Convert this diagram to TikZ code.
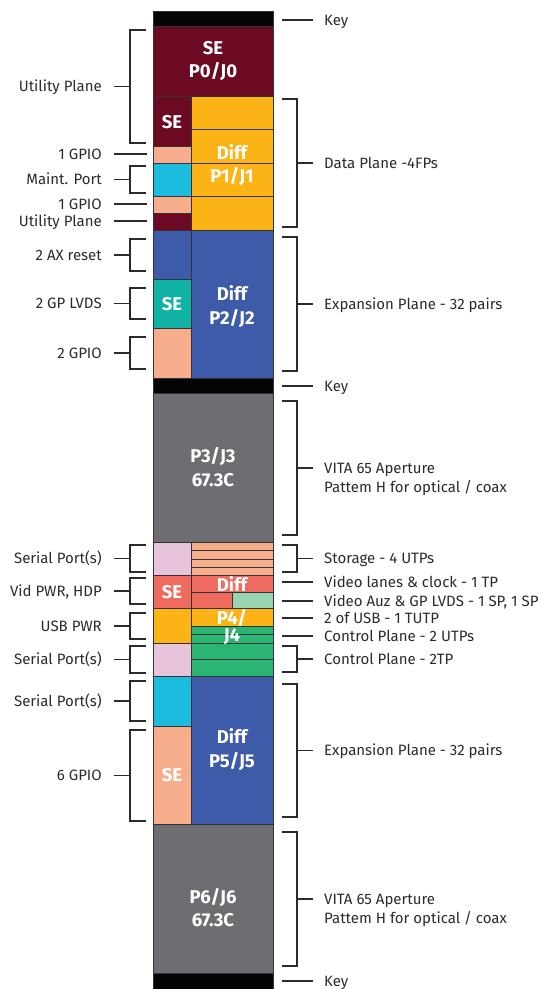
\documentclass[tikz,border=0pt]{standalone}
\usepackage{fontspec}
\setmainfont{Fira Sans}
\usepackage{xcolor}
\usetikzlibrary{calc, positioning}

\definecolor{ink}{HTML}{2B2B2B}
\definecolor{edge}{HTML}{333333}
\definecolor{keyblk}{HTML}{050505}
\definecolor{maroon}{HTML}{6B0A22}
\definecolor{gold}{HTML}{FBB316}
\definecolor{salmon}{HTML}{F6AD8C}
\definecolor{sky}{HTML}{1BBCDD}
\definecolor{royal}{HTML}{3D5BA9}
\definecolor{teal}{HTML}{10B2A5}
\definecolor{slate}{HTML}{6D6E71}
\definecolor{pink}{HTML}{E8C3DC}
\definecolor{coral}{HTML}{EF6B5F}
\definecolor{mint}{HTML}{98D4B0}
\definecolor{leaf}{HTML}{2BB573}

\begin{document}
\begin{tikzpicture}[x=1pt, y=-1pt,
	blk/.style={draw=edge, line width=0.8pt},
	br/.style={draw=ink, line width=1.2pt},
	lbl/.style={text=ink, font=\fontsize{15}{18}\selectfont, inner sep=0pt, text height=10.6pt, text depth=0pt},
	ll/.style={lbl, anchor=east},
	rl/.style={lbl, anchor=west},
	num/.style={text=white, font=\fontsize{18.5}{23.5}\selectfont\bfseries, align=center, inner sep=0pt}]
	\useasboundingbox (0,0) rectangle (553,989);

	\foreach \xa/\ya/\xb/\yb/\c in {
		153/11/273/26/keyblk, 153/26/273/96/maroon,
		153/96/191/146/maroon, 153/146/191/163/salmon, 153/163/191/196/sky,
		153/196/191/213/salmon, 153/213/191/230/maroon,
		191/96/273/129/gold, 191/129/273/163/gold, 191/163/273/196/gold, 191/196/273/230/gold,
		153/230/191/279/royal, 153/279/191/328/teal, 153/328/191/378/salmon,
		191/230/273/378/royal, 153/378/273/393/keyblk, 153/393/273/542/slate,
		153/542/191/575/pink,
		191/542/273/550/salmon, 191/550/273/559/salmon, 191/559/273/567/salmon, 191/567/273/575/salmon,
		153/575/191/608/coral, 191/575/273/592/coral, 191/592/232/608/coral, 232/592/273/608/mint,
		153/608/191/643/gold, 191/608/273/626/gold,
		191/626/273/634/leaf, 191/634/273/643/leaf,
		153/643/191/676/pink, 191/643/273/659/leaf, 191/659/273/676/leaf,
		153/676/191/726/sky, 153/726/191/824/salmon, 191/676/273/824/royal,
		153/824/273/973/slate, 153/973/273/989/keyblk}
		\filldraw[blk, fill=\c] (\xa,\ya) rectangle (\xb,\yb);

	\node[num] (p0) at (213,61) {SE\\P0/J0};
	\node[num] (se1) at (172,122) {SE};
	\node[num] (p1) at (232,165) {Diff\\P1/J1};
	\node[num] (se2) at (172,304) {SE};
	\node[num] (p2) at (232,306.5) {Diff\\P2/J2};
	\node[num] (p3) at (213,467) {P3/J3\\67.3C};
	\node[num] (df4) at (232,584) {Diff};
	\node[num] (se4) at (172,592) {SE};
	\node[num] (p4) at (232,617.5) {P4/};
	\node[num] (j4) at (232,637) {J4};
	\node[num] (p5) at (232,749.5) {Diff\\P5/J5};
	\node[num] (se5) at (172,775) {SE};
	\node[num] (p6) at (213,907.5) {P6/J6\\67.3C};

	\foreach \n/\t/\ya/\yb in {
		up/Utility Plane/30/143, mp/Maint. Port/166/193, ax/2 AX reset/239/271,
		gl/2 GP LVDS/288/319, gp/2 GPIO/337/369, sa/Serial Port(s)/545/572,
		vp/{Vid PWR, HDP}/578/604, ub/USB PWR/613/639, sb/Serial Port(s)/646/673,
		sc/Serial Port(s)/681/721, gs/6 GPIO/730/821}{
		\node[ll] (\n) at (102,{(\ya+\yb)/2}) {\t};
		\draw[br] (146,\ya) -- (130,\ya) -- (130,\yb) -- (146,\yb);
		\draw[br] ($(\n.east)+(12,0)$) -- ++(16,0);
	}
	\foreach \n/\t/\y in {ga/1 GPIO/154, gb/1 GPIO/204, uq/Utility Plane/221}{
		\node[ll] (\n) at (102,\y) {\t};
		\draw[br] ($(\n.east)+(12,0)$) -- ++(33,0);
	}

	\foreach \n/\t/\ya/\yb in {
		dp/Data Plane -4FPs/99/227, ea/Expansion Plane - 32 pairs/237/371,
		va/VITA 65 Aperture/401/535, st/Storage - 4 UTPs/545/572,
		cp/Control Plane - 2TP/646/672, eb/Expansion Plane - 32 pairs/684/817,
		vb/VITA 65 Aperture/832/966}{
		\node[rl] (\n) at (324,{(\ya+\yb)/2}) {\t};
		\draw[br] (282,\ya) -- (297,\ya) -- (297,\yb) -- (282,\yb);
		\draw[br] ($(\n.west)+(-11,0)$) -- ++(-16,0);
	}
	\node[rl, below=8.4pt of va.south west, anchor=north west] (va2) {Pattem H for optical / coax};
	\node[rl, below=8.4pt of vb.south west, anchor=north west] (vb2) {Pattem H for optical / coax};
	\foreach \n/\t/\y in {ka/Key/20, kb/Key/386, kc/Key/981,
		vl/Video lanes \& clock - 1 TP/582, vz/{Video Auz \& GP LVDS - 1 SP, 1 SP}/601,
		us/2 of USB - 1 TUTP/618, cq/Control Plane - 2 UTPs/636}{
		\node[rl] (\n) at (324,\y) {\t};
		\draw[br] ($(\n.west)+(-11,0)$) -- ++(-31,0);
	}
\end{tikzpicture}
\end{document}
